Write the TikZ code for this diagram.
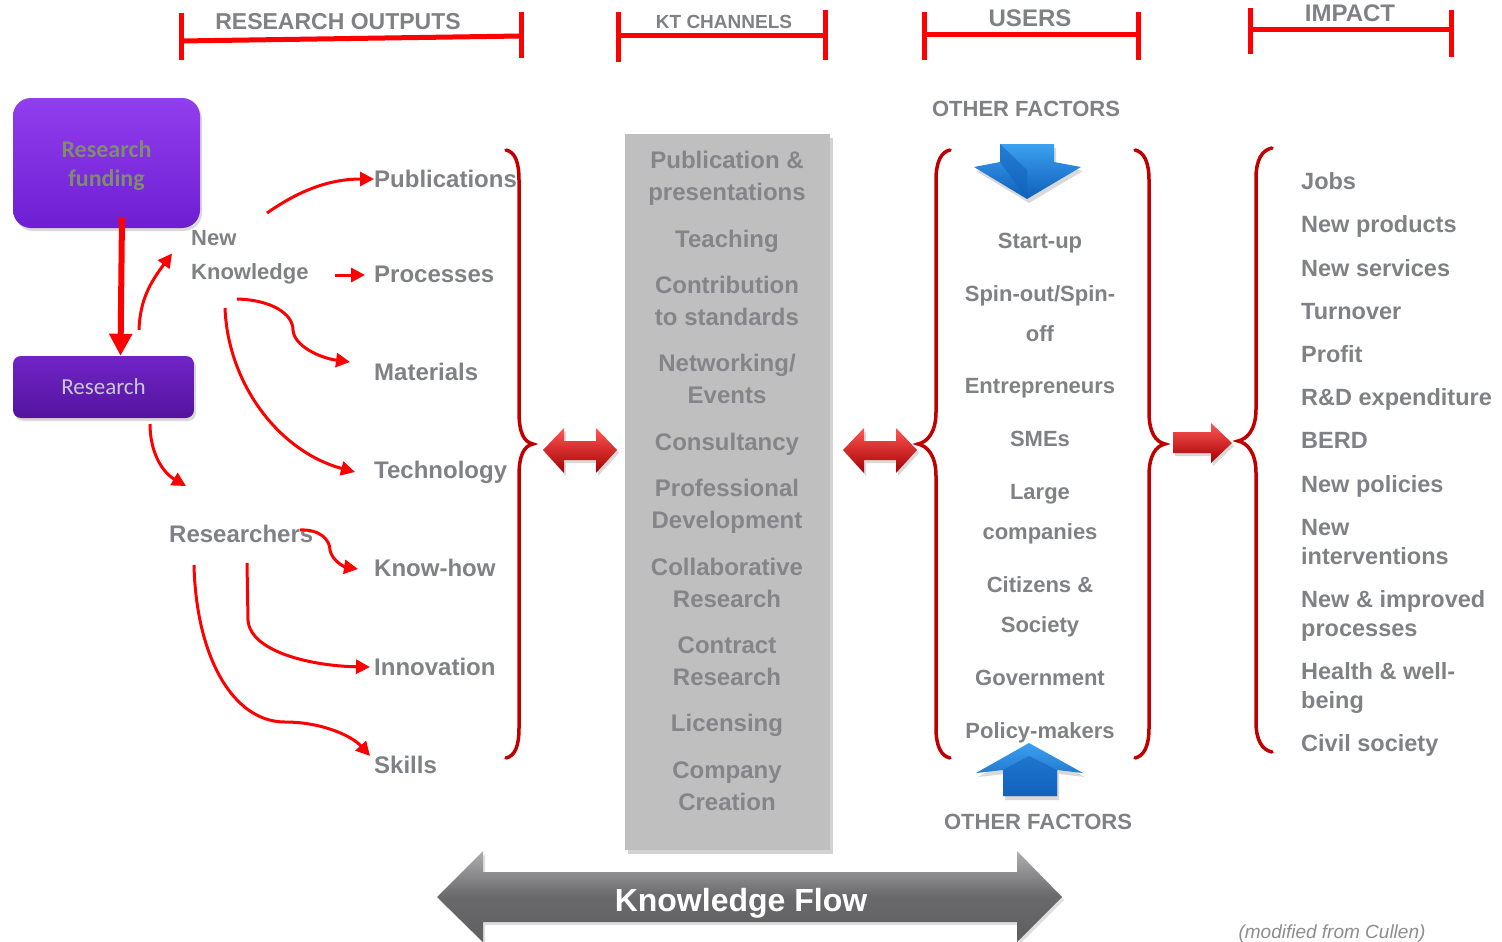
\documentclass[tikz,border=0pt]{standalone}
\usepackage{fontspec}
\setmainfont{Liberation Sans}
\newfontfamily\calfont{Carlito}
\usetikzlibrary{arrows.meta,shadows}
\definecolor{tg}{RGB}{128,129,133}
\definecolor{bg}{RGB}{133,133,137}
\definecolor{br}{RGB}{192,0,0}
\definecolor{hr}{RGB}{255,0,0}
\definecolor{boxg}{RGB}{191,191,191}
\tikzset{
  txt/.style={inner sep=0pt, text=tg, font=\fontsize{24}{28}\selectfont\bfseries},
  ktxt/.style={inner sep=0pt, text=bg, font=\fontsize{24}{28}\selectfont\bfseries, anchor=base},
  utxt/.style={inner sep=0pt, text=tg, font=\fontsize{22}{26}\selectfont\bfseries, anchor=base},
  itxt/.style={inner sep=0pt, text=tg, font=\fontsize{23.5}{27}\selectfont\bfseries, anchor=base west},
  otxt/.style={txt, anchor=base west},
  hdr/.style={draw=hr, line width=5pt},
  htxt/.style={inner sep=0pt, text=tg, font=\fontsize{23}{27}\selectfont\bfseries, anchor=base},
  arr/.style={draw=red, line width=3pt, -{Triangle[length=14pt,width=14pt]}},
  bracestyle/.style={draw=br, line width=3.5pt, line cap=round},
  redarrow/.style={top color={rgb,255:red,255;green,85;blue,85}, bottom color={rgb,255:red,165;green,0;blue,0}, draw=none, drop shadow={opacity=0.3,shadow xshift=2pt,shadow yshift=-3pt}},
  bluearrow/.style={top color={rgb,255:red,60;green,160;blue,240}, bottom color={rgb,255:red,15;green,95;blue,185}, draw=none, drop shadow={opacity=0.3,shadow xshift=2pt,shadow yshift=-4pt}},
}
\begin{document}
\begin{tikzpicture}[x=1pt,y=-1pt]
\useasboundingbox (0,0) rectangle (1502,942);

% ---------- headers ----------
\draw[hdr] (181,13) -- (181,60);
\draw[hdr] (521,12) -- (521,58);
\draw[hdr] (181,41) -- (521,36);
\node[htxt] (hro) at (338,30) {RESEARCH OUTPUTS};

\draw[hdr] (618,12) -- (618,62);
\draw[hdr] (825,10) -- (825,60);
\draw[hdr] (618,36) -- (825,36);
\node[htxt, font=\fontsize{19}{22}\selectfont\bfseries] (hkt) at (724,29) {KT CHANNELS};

\draw[hdr] (924,12) -- (924,60);
\draw[hdr] (1138,12) -- (1138,60);
\draw[hdr] (924,35) -- (1138,35);
\node[htxt, font=\fontsize{24}{28}\selectfont\bfseries] (hus) at (1030,27) {USERS};

\draw[hdr] (1250,8) -- (1250,54);
\draw[hdr] (1451,10) -- (1451,57);
\draw[hdr] (1250,30) -- (1451,30);
\node[htxt, font=\fontsize{24}{28}\selectfont\bfseries] (him) at (1350,22) {IMPACT};

% ---------- left boxes ----------
\path[draw=none, rounded corners=18pt,
  top color={rgb,255:red,145;green,62;blue,238}, bottom color={rgb,255:red,110;green,30;blue,210},
  drop shadow={opacity=0.3,shadow xshift=2pt,shadow yshift=-3pt}] (13,98) rectangle (200,228);
\node[inner sep=0pt, text={rgb,255:red,128;green,140;blue,110}, font=\calfont\fontsize{24}{29}\selectfont\bfseries, align=center]
  (fund) at (106.5,166) {Research\\funding};
\node[draw=none, rounded corners=8pt, minimum width=181pt, minimum height=62pt,
  top color={rgb,255:red,112;green,36;blue,200}, bottom color={rgb,255:red,84;green,20;blue,158},
  drop shadow={opacity=0.3,shadow xshift=2pt,shadow yshift=-3pt},
  text={rgb,255:red,200;green,200;blue,205}, font=\calfont\fontsize{23}{27}\selectfont]
  (res) at (103.5,387) {Research};

\coordinate (c0) at (122,217);
\draw[draw=red, line width=6pt, -{Triangle[length=22pt,width=22pt]}] (c0) -- ([xshift=17pt]res.north);

% ---------- new knowledge / researchers ----------
\node[txt, anchor=base west, font=\fontsize{22}{26}\selectfont\bfseries] (nk1) at (191,245) {New};
\node[txt, anchor=base west, font=\fontsize{22}{26}\selectfont\bfseries] (nk2) at (191,279) {Knowledge};
\node[otxt] (rsr) at (169,542) {Researchers};

% outputs
\node[otxt] (pub) at (374,187) {Publications};
\node[otxt] (proc) at (374,282) {Processes};
\node[otxt] (mat) at (374,380) {Materials};
\node[otxt] (tech) at (374,478) {Technology};
\node[otxt] (know) at (374,576) {Know-how};
\node[otxt] (inno) at (374,675) {Innovation};
\node[otxt] (skil) at (374,773) {Skills};

% connectors
\coordinate (c1) at (139,330);
\draw[arr] (c1) .. controls (140,300) and (150,283) .. ([xshift=-19pt,yshift=-8pt]nk1.south west);
\coordinate (c2) at (267,213);
\draw[arr] (c2) .. controls (300,190) and (330,179) .. ([yshift=8pt]pub.base west);
\coordinate (c3) at (335,275);
\draw[arr] (c3) -- ([xshift=-9pt,yshift=7pt]proc.base west);
\coordinate (c4) at (237,299);
\draw[arr] (c4) .. controls (272,300) and (293,314) .. (293,330) .. controls (294,346) and (320,358) .. ([xshift=-24pt,yshift=18pt]mat.base west);
\coordinate (c5) at (225,308);
\draw[arr] (c5) .. controls (228,385) and (280,452) .. ([xshift=-19pt,yshift=6pt]tech.base west);
\coordinate (c6) at (150,424);
\draw[arr] (c6) .. controls (150,452) and (162,472) .. ([xshift=17pt,yshift=56pt]rsr.base west);
\coordinate (c7) at (300,530);
\draw[arr] (c7) .. controls (320,529) and (330,540) .. (330,550) .. controls (332,561) and (345,567) .. ([xshift=-16pt,yshift=7pt]know.base west);
\coordinate (c8) at (247,563);
\draw[arr] (c8) -- (248,620) .. controls (250,652) and (312,666) .. ([xshift=-4pt,yshift=8pt]inno.base west);
\coordinate (c9) at (194,565);
\draw[arr] (c9) .. controls (196,655) and (232,722) .. (285,722) .. controls (322,722) and (352,736) .. ([xshift=-4pt,yshift=17pt]skil.base west);

% outputs brace
\draw[bracestyle] (506,150) .. controls (515,152) and (519,162) .. (519,180) -- (519,412) .. controls (519,433) and (524,442) .. (533,444) .. controls (524,446) and (519,455) .. (519,476) -- (519,728) .. controls (519,746) and (515,756) .. (506,758);

% double red arrows
\path[redarrow] (543,450) -- (564,428) -- (564,441) -- (596,441) -- (596,428) -- (617,450) -- (596,473) -- (596,460) -- (564,460) -- (564,473) -- cycle;
\path[redarrow] (843,450) -- (864,428) -- (864,441) -- (896,441) -- (896,428) -- (917,450) -- (896,473) -- (896,460) -- (864,460) -- (864,473) -- cycle;

% ---------- KT channels box ----------
\node[fill=boxg, draw=none, minimum width=205pt, minimum height=716pt, inner sep=0pt,
  drop shadow={opacity=0.35,shadow xshift=3pt,shadow yshift=-4pt}] (kt) at (727.5,492) {};
\node[ktxt] (k1) at (727,168) {Publication \&};
\node[ktxt] (k2) at (727,200) {presentations};
\node[ktxt] (k3) at (727,247) {Teaching};
\node[ktxt] (k4) at (727,293) {Contribution};
\node[ktxt] (k5) at (727,325) {to standards};
\node[ktxt] (k6) at (727,371) {Networking/};
\node[ktxt] (k7) at (727,403) {Events};
\node[ktxt] (k8) at (727,450) {Consultancy};
\node[ktxt] (k9) at (727,496) {Professional};
\node[ktxt] (k10) at (727,528) {Development};
\node[ktxt] (k11) at (727,575) {Collaborative};
\node[ktxt] (k12) at (727,607) {Research};
\node[ktxt] (k13) at (727,653) {Contract};
\node[ktxt] (k14) at (727,685) {Research};
\node[ktxt] (k15) at (727,731) {Licensing};
\node[ktxt] (k16) at (727,778) {Company};
\node[ktxt] (k17) at (727,810) {Creation};

% ---------- users ----------
\node[utxt] (of1) at (1026,116) {OTHER FACTORS};
\node[utxt] (of2) at (1038,829) {OTHER FACTORS};
\path[bluearrow] (1000,144) -- (1054,144) -- (1054,162) -- (1081,167) -- (1027,199) -- (974,167) -- (1000,162) -- cycle;
\path[fill={rgb,255:red,20;green,100;blue,190}, opacity=0.6] (1000,144) -- (1027,170) -- (1027,199) -- (1000,162) -- cycle;
\path[bluearrow] (1029,743) -- (1083,773) -- (1057,770) -- (1057,796) -- (1003,796) -- (1003,770) -- (976,773) -- cycle;
\path[fill={rgb,255:red,20;green,100;blue,190}, opacity=0.6] (1003,770) -- (1029,756) -- (1057,770) -- (1057,796) -- (1003,796) -- cycle;

\node[utxt] (u1) at (1040,248) {Start-up};
\node[utxt] (u2) at (1040,301) {Spin-out/Spin-};
\node[utxt] (u3) at (1040,341) {off};
\node[utxt] (u4) at (1040,393) {Entrepreneurs};
\node[utxt] (u5) at (1040,446) {SMEs};
\node[utxt] (u6) at (1040,499) {Large};
\node[utxt] (u7) at (1040,539) {companies};
\node[utxt] (u8) at (1040,592) {Citizens \&};
\node[utxt] (u9) at (1040,632) {Society};
\node[utxt] (u10) at (1040,685) {Government};
\node[utxt] (u11) at (1040,738) {Policy-makers};

\draw[bracestyle] (950,150) .. controls (941,152) and (936,162) .. (936,180) -- (936,412) .. controls (936,433) and (927,442) .. (918,444) .. controls (927,446) and (936,455) .. (936,476) -- (936,728) .. controls (936,746) and (941,756) .. (950,758);
\draw[bracestyle] (1135,150) .. controls (1144,152) and (1149,162) .. (1149,180) -- (1149,412) .. controls (1149,433) and (1156,442) .. (1165,444) .. controls (1156,446) and (1149,455) .. (1149,476) -- (1149,728) .. controls (1149,746) and (1144,756) .. (1135,758);

% red right arrow
\path[redarrow] (1173,432) -- (1211,432) -- (1211,423) -- (1232,443) -- (1211,463) -- (1211,453) -- (1173,453) -- cycle;

% ---------- impact ----------
\draw[bracestyle] (1272,148) .. controls (1262,150) and (1256,160) .. (1256,178) -- (1256,409) .. controls (1256,430) and (1247,439) .. (1238,441) .. controls (1247,443) and (1256,452) .. (1256,473) -- (1256,722) .. controls (1256,740) and (1262,750) .. (1272,752);
\node[itxt] (i1) at (1301,189) {Jobs};
\node[itxt] (i2) at (1301,232) {New products};
\node[itxt] (i3) at (1301,276) {New services};
\node[itxt] (i4) at (1301,319) {Turnover};
\node[itxt] (i5) at (1301,362) {Profit};
\node[itxt] (i6) at (1301,405) {R\&D expenditure};
\node[itxt] (i7) at (1301,448) {BERD};
\node[itxt] (i8) at (1301,492) {New policies};
\node[itxt] (i9) at (1301,535) {New};
\node[itxt] (i10) at (1301,564) {interventions};
\node[itxt] (i11) at (1301,607) {New \& improved};
\node[itxt] (i12) at (1301,636) {processes};
\node[itxt] (i13) at (1301,679) {Health \& well-};
\node[itxt] (i14) at (1301,708) {being};
\node[itxt] (i15) at (1301,751) {Civil society};

% ---------- knowledge flow ----------
\path[top color={rgb,255:red,175;green,175;blue,178}, bottom color={rgb,255:red,95;green,95;blue,98}, middle color={rgb,255:red,105;green,105;blue,108}, draw=none,
  drop shadow={opacity=0.25,shadow xshift=2pt,shadow yshift=-3pt}]
  (437,897) -- (483,851) -- (483,872) -- (1017,872) -- (1017,851) -- (1062,897) -- (1017,942) -- (1017,922) -- (483,922) -- (483,942) -- cycle;
\node[inner sep=0pt, text=white, font=\fontsize{32}{36}\selectfont\bfseries, anchor=base] (kf) at (741,911) {Knowledge Flow};

\node[inner sep=0pt, text={rgb,255:red,140;green,140;blue,145}, font=\fontsize{19}{22}\selectfont\itshape, anchor=base] (src) at (1332,938) {(modified from Cullen)};
\end{tikzpicture}
\end{document}
